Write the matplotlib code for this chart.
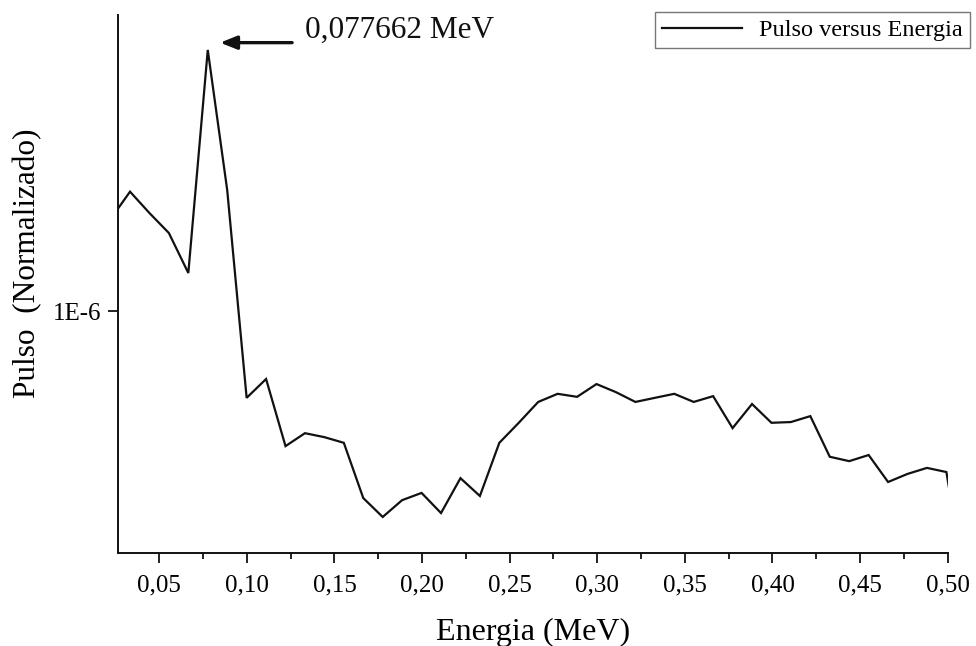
import matplotlib
matplotlib.use("Agg")
import matplotlib.pyplot as plt
from matplotlib.ticker import FixedLocator, FuncFormatter, NullLocator, MultipleLocator

# Energy channels (MeV) and normalized pulse amplitude
energia = [0.022189, 0.033284, 0.044378, 0.055473, 0.066567, 0.077662,
           0.088757, 0.099851, 0.110946, 0.122040, 0.133135, 0.144229,
           0.155324, 0.166419, 0.177513, 0.188608, 0.199702, 0.210797,
           0.221891, 0.232986, 0.244081, 0.255175, 0.266270, 0.277364,
           0.288459, 0.299553, 0.310648, 0.321743, 0.332837, 0.343932,
           0.355026, 0.366121, 0.377215, 0.388310, 0.399405, 0.410499,
           0.421594, 0.432688, 0.443783, 0.454877, 0.465972, 0.477067,
           0.488161, 0.499256, 0.510350]
pulso = [1.485e-6, 1.670e-6, 1.524e-6, 1.399e-6, 1.179e-6, 3.063e-6,
         1.682e-6, 0.691e-6, 0.749e-6, 0.562e-6, 0.594e-6, 0.584e-6,
         0.570e-6, 0.450e-6, 0.415e-6, 0.446e-6, 0.460e-6, 0.422e-6,
         0.490e-6, 0.454e-6, 0.570e-6, 0.621e-6, 0.679e-6, 0.703e-6,
         0.694e-6, 0.733e-6, 0.708e-6, 0.679e-6, 0.691e-6, 0.703e-6,
         0.679e-6, 0.696e-6, 0.607e-6, 0.673e-6, 0.621e-6, 0.623e-6,
         0.639e-6, 0.537e-6, 0.527e-6, 0.541e-6, 0.482e-6, 0.499e-6,
         0.512e-6, 0.503e-6, 0.304e-6]

pico_energia = 0.077662
pico_texto = "0,077662 MeV"
serie_nome = "Pulso versus Energia"

plt.rcParams["font.family"] = ["Liberation Serif", "DejaVu Serif"]

W, H = 976, 646
fig = plt.figure(figsize=(W / 100, H / 100), dpi=100)
left, right, bottom, top = 118.3, 947.7, 553, 15
ax = fig.add_axes([left / W, 1 - bottom / H, (right - left) / W, (bottom - top) / H])

ax.plot(energia, pulso, color="#111111", lw=1.6, label=serie_nome, solid_joinstyle="miter")

ax.set_yscale("log")
ax.set_xlim(0.0266, 0.50)
ax.set_ylim(0.3557e-6, 3.557e-6)

for s in ("top", "right"):
    ax.spines[s].set_visible(False)
for s in ("left", "bottom"):
    ax.spines[s].set_linewidth(1.4)
    ax.spines[s].set_color("#111111")

ax.xaxis.set_major_locator(MultipleLocator(0.05))
ax.xaxis.set_minor_locator(MultipleLocator(0.025))
ax.xaxis.set_major_formatter(FuncFormatter(lambda v, p: f"{v:.2f}".replace(".", ",")))
ax.yaxis.set_major_locator(FixedLocator([1e-6]))
ax.yaxis.set_minor_locator(NullLocator())
ax.yaxis.set_major_formatter(FuncFormatter(lambda v, p: "1E-6"))

ax.tick_params(axis="both", which="major", direction="out", length=7.5, width=1.3,
               labelsize=18, color="#111111")
ax.tick_params(axis="x", which="major", pad=8)
ax.tick_params(axis="y", which="major", pad=5)
ax.tick_params(axis="x", which="minor", direction="out", length=4.5, width=1.3, color="#111111")

ax.set_xlabel("Energia (MeV)", fontsize=23)
ax.set_ylabel("Pulso  (Normalizado)", fontsize=22.5)
ax.xaxis.set_label_coords(0.5, -0.147)
ax.xaxis.label.set_va("center")
ax.yaxis.set_label_coords(-0.1095, 0.539)
ax.yaxis.label.set_va("center")

# arrow pointing at the peak
ax.annotate("", xy=(0.0847, 3.16e-6), xytext=(0.1258, 3.16e-6),
            arrowprops=dict(arrowstyle="-|>,head_length=1.0,head_width=0.4",
                            color="#111111", lw=2.4, shrinkA=0, shrinkB=0))
ax.text(0.1332, 3.33e-6, pico_texto, fontsize=22.5, va="center", ha="left", color="#111111")

leg = ax.legend(loc="upper right", bbox_to_anchor=(1.027, 1.006), fontsize=17.5,
                frameon=True, fancybox=False, handlelength=3.3, borderpad=0.3,
                handletextpad=0.7, borderaxespad=0.0)
leg.get_frame().set_edgecolor("#555555")
leg.get_frame().set_linewidth(1.0)

fig.savefig("out.png", dpi=100)
